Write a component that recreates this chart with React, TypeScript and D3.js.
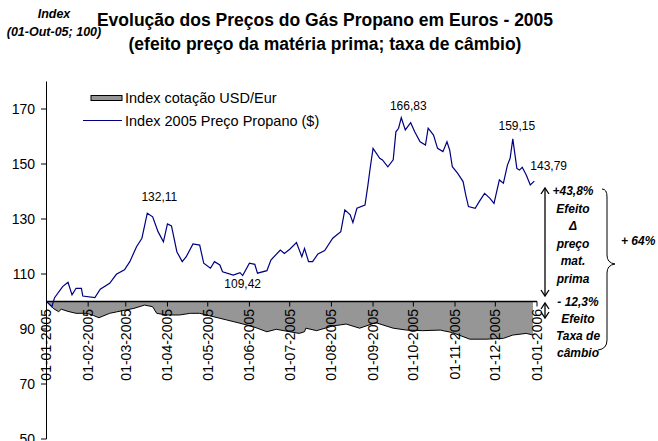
import React from "react";
import * as d3 from "d3";

// ---- Data ----
const titleLines = [
  "Evolução dos Preços do Gás Propano em Euros - 2005",
  "(efeito preço da matéria prima; taxa de câmbio)",
];
const unitLines = ["Index", "(01-Out-05; 100)"];
const legendLabels = ["Index cotação USD/Eur", "Index 2005 Preço Propano ($)"];
const yTicks = [50, 70, 90, 110, 130, 150, 170];

// days since 01-01-2005
const propanoDay = [
  0, 4, 6, 12, 16, 19, 22, 26, 27, 36, 40, 47, 52, 58, 62, 67, 71, 75, 79, 83,
  87, 90, 93, 97, 101, 104, 109, 114, 117, 122, 125, 129, 131, 139, 144, 146,
  151, 155, 157, 164, 167, 174, 177, 181, 186, 190, 192, 195, 198, 202, 207,
  213, 219, 222, 226, 228, 231, 237, 239, 241, 243, 248, 250, 254, 258, 260,
  262, 264, 267, 271, 274, 278, 282, 284, 288, 291, 295, 298, 300, 302, 306,
  310, 312, 314, 319, 322, 326, 330, 333, 337, 340, 343, 345, 347, 350, 352,
  354, 357, 360, 363,
];
const propanoIndex = [
  100, 98.1, 101.4, 105.4, 107.0, 102.4, 104.8, 104.8, 102.0, 101.4, 104.5,
  106.6, 109.9, 111.5, 114.5, 119.9, 123.0, 132.11, 130.8, 125.4, 121.7, 128.2,
  127.5, 118.1, 114.5, 116.3, 120.9, 120.5, 113.9, 112.1, 114.5, 113.3, 110.8,
  109.6, 110.5, 109.42, 113.9, 113.5, 110.3, 111.2, 115.1, 118.7, 117.5, 119.0,
  121.4, 116.3, 119.3, 114.5, 114.5, 117.3, 118.5, 123.0, 125.4, 133.3, 131.5,
  128.7, 133.9, 135.1, 141.7, 149.0, 155.7, 152.1, 151.5, 149.0, 151.5, 161.7,
  163.0, 166.83, 162.4, 165.0, 161.7, 158.1, 156.9, 163.0, 160.5, 155.7, 154.5,
  158.1, 155.1, 149.0, 146.6, 143.6, 138.7, 134.5, 133.9, 136.3, 139.3, 137.5,
  135.7, 144.2, 143.0, 149.6, 152.1, 159.15, 148.4, 147.8, 148.8, 146.0, 142.4,
  143.79,
];

const usdDay = [
  0, 5, 9, 11, 16, 22, 30, 35, 39, 47, 52, 57, 65, 73, 79, 82, 89, 99, 107, 114,
  124, 134, 144, 154, 164, 171, 181, 188, 192, 193, 201, 213, 223, 233, 245,
  258, 268, 280, 293, 302, 315, 327, 340, 347, 357, 362,
];
const usdIndex = [
  100, 97.5, 96.3, 97.2, 96.4, 95.7, 95.7, 94.9, 94.1, 95.7, 96.2, 96.7, 97.5,
  98.7, 98.1, 95.7, 95.1, 95.1, 95.7, 95.7, 94.5, 93.3, 92.1, 90.8, 89.0, 89.9,
  89.0, 88.4, 89.0, 90.3, 89.4, 91.1, 91.8, 90.3, 92.3, 90.3, 89.6, 89.4, 89.6,
  88.7, 86.3, 86.3, 86.6, 87.8, 88.4, 87.8,
];

const peakText = ["132,11", "109,42", "166,83", "159,15", "143,79"];
const peakDay = [75, 146, 264, 347, 363];
const peakValue = [132.11, 109.42, 166.83, 159.15, 143.79];
const peakOffset = [
  [12, -12, "middle"],
  [0, 12.5, "middle"],
  [7, -8, "middle"],
  [4, -9, "middle"],
  [-4, -11, "start"],
] as const;

const effect1Lines = ["+43,8%", "Efeito", "Δ", "preço", "mat.", "prima"];
const effect2Lines = ["- 12,3%", "Efeito", "Taxa de", "câmbio"];
const totalLabel = "+ 64%";

const FONT = "'Liberation Sans', Arial, Helvetica, sans-serif";

export default function App() {
  const start = new Date(2005, 0, 1);
  const end = new Date(2006, 0, 1);
  const x = d3.scaleTime().domain([start, end]).range([46.5, 537]);
  const y = d3.scaleLinear().domain([50, 180]).range([439, 81.5]);
  const toDate = (d: number) => d3.timeDay.offset(start, d);
  const fmt = d3.timeFormat("%d-%m-%Y");
  const months = d3.timeMonth.range(start, d3.timeDay.offset(end, 1));

  const propLine = d3
    .line<number>()
    .x((_, i) => x(toDate(propanoDay[i])))
    .y((d) => y(d))(propanoIndex) as string;

  const usdArea = d3
    .area<number>()
    .x((_, i) => x(toDate(usdDay[i])))
    .y0(y(100))
    .y1((d) => y(d))(usdIndex) as string;
  const usdLine = d3
    .line<number>()
    .x((_, i) => x(toDate(usdDay[i])))
    .y((d) => y(d))(usdIndex) as string;

  const ax = 545;
  const arrow = (x0: number, y0: number, y1: number) => (
    <g stroke="#000" strokeWidth={1.3} fill="none">
      <line x1={x0} y1={y0} x2={x0} y2={y1} />
      <path d={`M${x0 - 4},${y0 + 6} L${x0},${y0} L${x0 + 4},${y0 + 6}`} />
      <path d={`M${x0 - 4},${y1 - 6} L${x0},${y1} L${x0 + 4},${y1 - 6}`} />
    </g>
  );

  return (
    <svg
      width={658}
      height={441}
      style={{ position: "absolute", left: 0, top: 0, background: "#fff" }}
      fontFamily={FONT}
    >
      {/* Title */}
      {titleLines.map((t, i) => (
        <text key={t} x={325} y={26 + i * 24} textAnchor="middle" fontSize={17.5} fontWeight="bold">
          {t}
        </text>
      ))}
      {unitLines.map((t, i) => (
        <text
          key={t}
          x={54}
          y={18 + i * 18}
          textAnchor="middle"
          fontSize={12.5}
          fontWeight="bold"
          fontStyle="italic"
        >
          {t}
        </text>
      ))}

      {/* USD/Eur area */}
      <path d={usdArea} fill="#969696" />
      <path d={usdLine} fill="none" stroke="#000" strokeWidth={1} />

      {/* Y axis */}
      <line x1={46.5} x2={46.5} y1={y(180)} y2={y(50)} stroke="#000" strokeWidth={1} />
      {yTicks.map((t) => (
        <g key={t}>
          <line x1={41} x2={46.5} y1={y(t)} y2={y(t)} stroke="#000" />
          <text x={35} y={y(t)} dy="0.35em" textAnchor="end" fontSize={14}>
            {t}
          </text>
        </g>
      ))}

      {/* X axis at 100 */}
      <line x1={46.5} x2={537} y1={y(100)} y2={y(100)} stroke="#000" strokeWidth={1.6} />
      {months.map((m) => (
        <g key={+m}>
          <line x1={x(m)} x2={x(m)} y1={y(100)} y2={y(100) + 5} stroke="#000" />
          <text
            transform={`translate(${x(m)},${y(100) + 7.5}) rotate(-90)`}
            textAnchor="end"
            dy="0.35em"
            fontSize={14}
          >
            {fmt(m)}
          </text>
        </g>
      ))}

      {/* Propane line */}
      <path d={propLine} fill="none" stroke="#000080" strokeWidth={1.2} />

      {/* Data labels */}
      {peakText.map((t, i) => (
        <text
          key={t}
          x={x(toDate(peakDay[i])) + peakOffset[i][0]}
          y={y(peakValue[i]) + peakOffset[i][1]}
          textAnchor={peakOffset[i][2]}
          fontSize={12}
        >
          {t}
        </text>
      ))}

      {/* Legend */}
      <rect x={91} y={95.5} width={31} height={5} fill="#969696" stroke="#000" strokeWidth={1} />
      <text x={125} y={98} dy="0.35em" fontSize={14.5}>
        {legendLabels[0]}
      </text>
      <line x1={83} x2={122} y1={120.5} y2={120.5} stroke="#000080" strokeWidth={1.2} />
      <text x={125} y={121} dy="0.35em" fontSize={14.5}>
        {legendLabels[1]}
      </text>

      {/* Annotations */}
      {arrow(ax, 188, 296)}
      {arrow(ax, 303, 318)}
      {effect1Lines.map((t, i) => (
        <text key={"a" + i} x={573} y={195 + i * 17.5} textAnchor="middle" fontSize={12} fontWeight="bold" fontStyle="italic">
          {t}
        </text>
      ))}
      {effect2Lines.map((t, i) => (
        <text key={"b" + i} x={578} y={306 + i * 17} textAnchor="middle" fontSize={12} fontWeight="bold" fontStyle="italic">
          {t}
        </text>
      ))}
      <path
        d="M602,189 Q607,189 607,197 L607,255 Q607,263 615,264 Q607,265 607,273 L607,340 Q607,349 598,350"
        fill="none"
        stroke="#000"
        strokeWidth={1}
      />
      <text x={621} y={245} fontSize={12} fontWeight="bold" fontStyle="italic">
        {totalLabel}
      </text>
    </svg>
  );
}
